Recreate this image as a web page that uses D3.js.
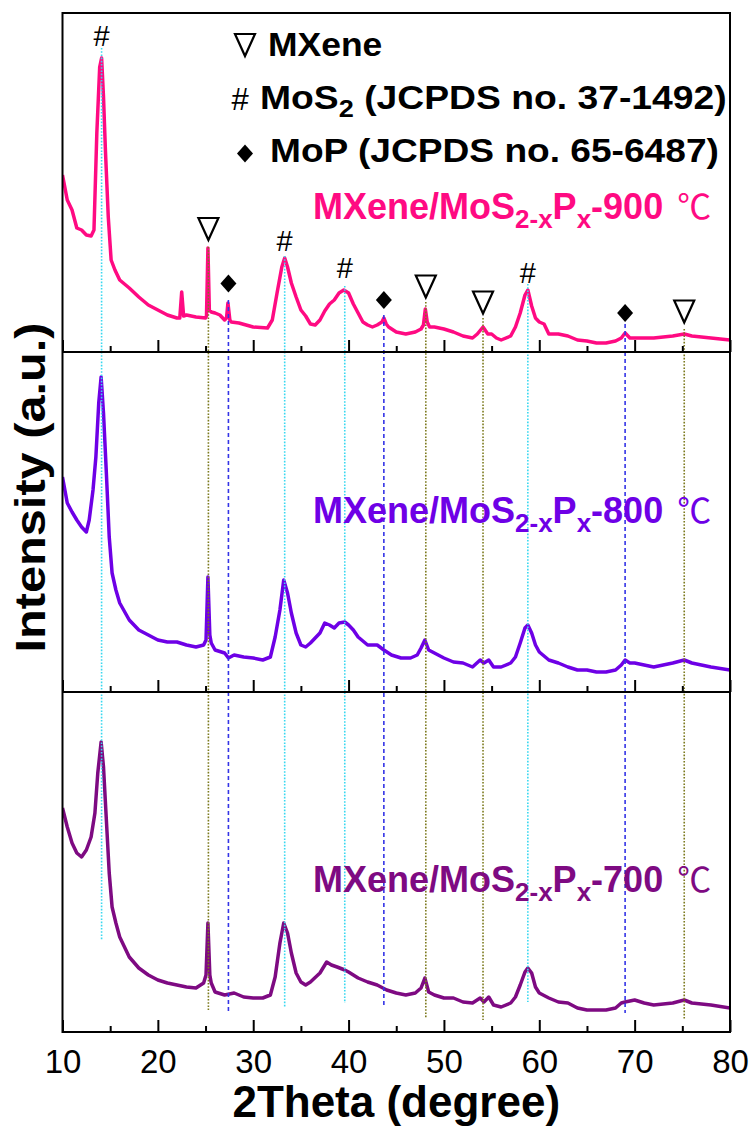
<!DOCTYPE html>
<html>
<head>
<meta charset="utf-8">
<script src="https://cdn.jsdelivr.net/npm/d3@7"></script>
<style>
  body { margin: 0; background: #fff; }
  svg { display: block; }
  text { white-space: pre; }
</style>
</head>
<body>
<svg id="chart" width="755" height="1126"></svg>
<script>
// XRD patterns, [2theta (degree), intensity (a.u.)]
const xrd900 = [
  [10,177],[10.5,152],[11,142],[11.5,124],[12,122],[12.5,117],[13,116],[13.3,122],[13.6,219],[13.9,285],
  [14.1,294],[14.3,255],[14.5,202],[14.8,135],[15.1,92],[15.5,82],[16,72],[17,64],[18,55],[19,47],
  [20,42],[21,37],[22,34],[22.3,34],[22.5,60],[22.7,36],[23,37],[24,35],[25,34],[25.1,36],
  [25.25,104],[25.4,42],[25.6,40],[26,39],[26.5,37],[27,32],[27.2,34],[27.35,49],[27.55,32],[27.7,30],
  [28.5,29],[30,25],[31.5,24],[32,32],[32.5,59],[33,85],[33.3,94],[33.6,85],[34,69],[34.5,55],
  [35,42],[35.5,36],[36,28],[36.5,27],[37,32],[37.5,41],[38,48],[38.5,52],[39,59],[39.5,62],
  [40,59],[40.5,48],[41,39],[41.5,30],[42,27],[42.5,25],[43,27],[43.5,30],[43.7,34],[43.95,28],
  [44.2,25],[45,20],[46,18],[47,20],[47.6,23],[47.85,27],[48.05,43],[48.25,30],[48.5,25],[49,25],
  [50,23],[51,20],[52,16],[53,14],[53.5,18],[54.1,25],[54.6,18],[55,18],[55.5,14],[56,12],
  [57,16],[57.5,25],[58,39],[58.5,57],[58.8,62],[59.2,46],[59.6,34],[60,30],[60.5,28],[61,18],
  [62,18],[63,16],[64,12],[65,11],[66,9],[67,9],[68,11],[68.6,14],[69,19],[69.5,14],
  [70,14],[72,14],[74,16],[75.2,18],[76,16],[78,14],[80,12]
];
const xrd800 = [
  [10,215],[10.5,189],[11,180],[11.5,172],[12,165],[12.5,160],[12.8,172],[13.2,202],[13.5,235],[13.8,289],
  [14.05,315],[14.3,279],[14.6,219],[14.9,155],[15.2,119],[15.6,102],[16,89],[17,72],[18,62],[19,57],
  [20,52],[21,50],[22,50],[23,47],[24,45],[24.8,47],[25.05,52],[25.25,115],[25.45,57],[25.6,49],
  [26,42],[27,39],[27.4,34],[28,37],[29,35],[30,34],[31,32],[31.8,35],[32.3,55],[32.8,82],
  [33.2,112],[33.6,99],[34,79],[34.5,59],[35,47],[35.5,45],[36,49],[37,59],[37.5,69],[38,67],
  [38.5,64],[39,69],[39.6,70],[40,67],[40.5,62],[41,55],[42,47],[43,47],[43.7,42],[44.5,37],
  [45.5,34],[46.5,34],[47.2,37],[47.6,44],[48,52],[48.4,42],[49,39],[50,34],[51,30],[52,29],
  [53,25],[53.8,32],[54.2,29],[54.7,32],[55.2,25],[56,25],[57,29],[57.5,35],[58,49],[58.5,64],
  [58.8,67],[59.2,59],[59.6,47],[60,40],[61,32],[62,29],[63,25],[64,22],[65,22],[66,20],
  [67,20],[68,22],[68.6,27],[69,32],[69.5,29],[70,29],[72,25],[74,29],[75.2,32],[76,29],
  [78,25],[80,22]
];
const xrd700 = [
  [10,224],[10.5,205],[11,189],[11.5,179],[12,175],[12.5,182],[13,195],[13.4,219],[13.7,259],[14.05,290],
  [14.3,265],[14.6,212],[14.9,159],[15.2,125],[15.6,109],[16,95],[17,75],[18,64],[19,57],[20,52],
  [21,49],[22,47],[23,45],[24,44],[24.8,49],[25.05,57],[25.25,109],[25.45,57],[25.6,49],[26,40],
  [27,37],[28,39],[29,35],[30,34],[31,34],[31.8,37],[32.3,55],[32.8,89],[33.2,109],[33.6,99],
  [34,79],[34.5,59],[35,50],[35.5,47],[36,50],[37,59],[37.7,70],[38.2,67],[38.8,65],[39.6,62],
  [40,60],[41,54],[42,50],[43,47],[44,42],[45,39],[46,37],[47,39],[47.6,44],[48,54],
  [48.4,40],[49,37],[50,34],[51,34],[52,30],[53,29],[53.8,34],[54.2,30],[54.7,35],[55.2,27],
  [56,25],[57,29],[57.5,35],[58,47],[58.5,60],[58.8,64],[59.2,59],[59.6,45],[60,39],[61,34],
  [62,30],[63,29],[64,24],[65,22],[66,22],[67,22],[68,24],[68.6,29],[69,30],[70,32],
  [71,29],[72,27],[74,29],[75.2,32],[76,29],[78,27],[80,24]
];

// Reference peak positions (2theta) of each phase
const mxenePeaks = [25.3, 48.1, 54.1, 75.2];
const mos2Peaks  = [14.1, 33.3, 39.6, 58.8];
const mopPeaks   = [27.4, 43.7, 69.0];
// marker level above the 900 pattern (its intensity units)
const mxeneMark = [124, 66.5, 50.5, 41.5];
const mos2Mark  = [316, 111, 84, 79];
const mopMark   = [68.5, 52, 39];
// guide line starts (900 pattern units) and ends (700 pattern units)
const mxeneFrom = [105, 50, 34, 23];
const mos2From  = [304, 96, 66, 68];
const mopFrom   = [52, 37, 28];
const mxeneTo   = [22, 14, 12, 12];
const mos2To    = [92, 25, 29, 30];
const mopTo     = [20, 25, 19];

const xMajorTicks = [10, 20, 30, 40, 50, 60, 70, 80];
const xMinorTicks = [15, 25, 35, 45, 55, 65, 75];
const sampleTemps = ["900", "800", "700"];

const FONT = "'Liberation Sans', Arial, Helvetica, sans-serif";
const svg = d3.select("#chart");

const left = 62.5, right = 730;
const x = d3.scaleLinear().domain([10, 80]).range([left, right]);

const panels = [
  { data: xrd900, top: 13,  bottom: 352,  max: 339, color: "#FF0A82", labelY: 219 },
  { data: xrd800, top: 352, bottom: 692,  max: 340, color: "#6E00E6", labelY: 523 },
  { data: xrd700, top: 692, bottom: 1032, max: 340, color: "#7E0A82", labelY: 892 }
];
panels.forEach(p => {
  p.y = d3.scaleLinear().domain([0, p.max]).range([p.bottom, p.top]);
});

const defs = svg.append("defs");
panels.forEach((p, i) => {
  defs.append("clipPath").attr("id", "clip" + i)
    .append("rect").attr("x", left).attr("y", p.top)
    .attr("width", right - left).attr("height", p.bottom - p.top);
});

// patterns
panels.forEach((p, i) => {
  const line = d3.line().x(d => x(d[0])).y(d => p.y(d[1]));
  svg.append("path")
    .datum(p.data)
    .attr("clip-path", `url(#clip${i})`)
    .attr("fill", "none")
    .attr("stroke", p.color)
    .attr("stroke-width", 3.5)
    .attr("stroke-linejoin", "round")
    .attr("d", line);
});

// guide lines through all three patterns
const yTop = panels[0].y, yBot = panels[2].y;
function guides(peaks, from, to, color, dash) {
  svg.append("g").selectAll("line").data(peaks).join("line")
    .attr("x1", d => x(d)).attr("x2", d => x(d))
    .attr("y1", (d, i) => yTop(from[i]))
    .attr("y2", (d, i) => yBot(to[i]))
    .attr("stroke", color)
    .attr("stroke-width", 1.6)
    .attr("stroke-dasharray", dash);
}
guides(mos2Peaks, mos2From, mos2To, "#38D8F0", "1.6 1.6");
guides(mxenePeaks, mxeneFrom, mxeneTo, "#7C7A1E", "1.6 1.6");
guides(mopPeaks, mopFrom, mopTo, "#3434E6", "4 3");

// marker shapes
const triPath = "M-10,-10L10,-10L0,12Z";
const diaPath = "M0,-9L8,0L0,9L-8,0Z";

function drawTriangle(g, cx, cy) {
  g.append("path").attr("d", triPath)
    .attr("transform", `translate(${cx},${cy})`)
    .attr("fill", "#fff").attr("stroke", "#000").attr("stroke-width", 2.2)
    .attr("stroke-linejoin", "miter");
}
function drawDiamond(g, cx, cy) {
  g.append("path").attr("d", diaPath)
    .attr("transform", `translate(${cx},${cy})`)
    .attr("fill", "#000");
}
function drawHash(g, cx, cy, size) {
  g.append("text").attr("x", cx).attr("y", cy + size * 0.35)
    .attr("text-anchor", "middle")
    .attr("font-family", FONT).attr("font-size", size)
    .attr("fill", "#000").text("#");
}

const marks = svg.append("g");
mxenePeaks.forEach((d, i) => drawTriangle(marks, x(d), yTop(mxeneMark[i])));
mopPeaks.forEach((d, i) => drawDiamond(marks, x(d), yTop(mopMark[i])));
mos2Peaks.forEach((d, i) => drawHash(marks, x(d), yTop(mos2Mark[i]), 29));

// axes: inward ticks on the bottom edge of every panel
panels.forEach((p, i) => {
  const major = d3.axisBottom(x).tickValues(xMajorTicks)
    .tickSizeInner(-12).tickSizeOuter(0).tickPadding(18)
    .tickFormat(i === 2 ? d3.format("d") : () => "");
  const minor = d3.axisBottom(x).tickValues(xMinorTicks)
    .tickSizeInner(-6).tickSizeOuter(0).tickFormat(() => "");
  const gM = svg.append("g").attr("transform", `translate(0,${p.bottom})`).call(major);
  const gm = svg.append("g").attr("transform", `translate(0,${p.bottom})`).call(minor);
  [gM, gm].forEach(g => {
    g.select(".domain").remove();
    g.selectAll(".tick line").attr("stroke", "#000").attr("stroke-width", 2);
  });
  gM.selectAll(".tick text")
    .attr("font-family", FONT).attr("font-size", 33).attr("fill", "#000");
});

// frame and panel dividers
svg.append("rect")
  .attr("x", left).attr("y", 13)
  .attr("width", right - left).attr("height", 1032 - 13)
  .attr("fill", "none").attr("stroke", "#000").attr("stroke-width", 2);
[352, 692].forEach(yy => {
  svg.append("line").attr("x1", left).attr("x2", right)
    .attr("y1", yy).attr("y2", yy)
    .attr("stroke", "#000").attr("stroke-width", 2);
});

// sample labels
panels.forEach((p, i) => {
  const t = svg.append("text")
    .attr("x", 313).attr("y", p.labelY)
    .attr("font-family", FONT).attr("font-weight", "bold")
    .attr("font-size", 36).attr("fill", p.color);
  t.append("tspan").text("MXene/MoS");
  t.append("tspan").attr("dy", 9).attr("font-size", 26).text("2-x");
  t.append("tspan").attr("dy", -9).text("P");
  t.append("tspan").attr("dy", 9).attr("font-size", 26).text("x");
  t.append("tspan").attr("dy", -9).text("-" + sampleTemps[i]);
  t.append("tspan").attr("dx", 14)
    .attr("font-family", "'Noto Sans CJK SC', sans-serif")
    .attr("font-weight", "normal").attr("font-size", 34).text("\u2103");
});

// legend
const lg = svg.append("g");
drawTriangle(lg, 245, 44);
drawHash(lg, 240, 99, 31);
drawDiamond(lg, 245, 153.5);

function legendText(tx, ty, sx) {
  return lg.append("text")
    .attr("transform", `translate(${tx},${ty}) scale(${sx},1)`)
    .attr("font-family", FONT).attr("font-weight", "bold")
    .attr("font-size", 33).attr("fill", "#000");
}
legendText(268, 56, 1.075).text("MXene");
const l2 = legendText(260, 109, 1.13);
l2.append("tspan").text("MoS");
l2.append("tspan").attr("dy", 8).attr("font-size", 24).text("2");
l2.append("tspan").attr("dy", -8).text(" (JCPDS no. 37-1492)");
legendText(270, 162, 1.125).text("MoP (JCPDS no. 65-6487)");

// axis titles
svg.append("text")
  .attr("x", (left + right) / 2).attr("y", 1117)
  .attr("text-anchor", "middle")
  .attr("font-family", FONT).attr("font-weight", "bold")
  .attr("font-size", 44).attr("fill", "#000")
  .text("2Theta (degree)");

svg.append("text")
  .attr("transform", "translate(45,487.5) rotate(-90) scale(1.16,1)")
  .attr("text-anchor", "middle")
  .attr("font-family", FONT).attr("font-weight", "bold")
  .attr("font-size", 42).attr("fill", "#000")
  .text("Intensity (a.u.)");
</script>
</body>
</html>
